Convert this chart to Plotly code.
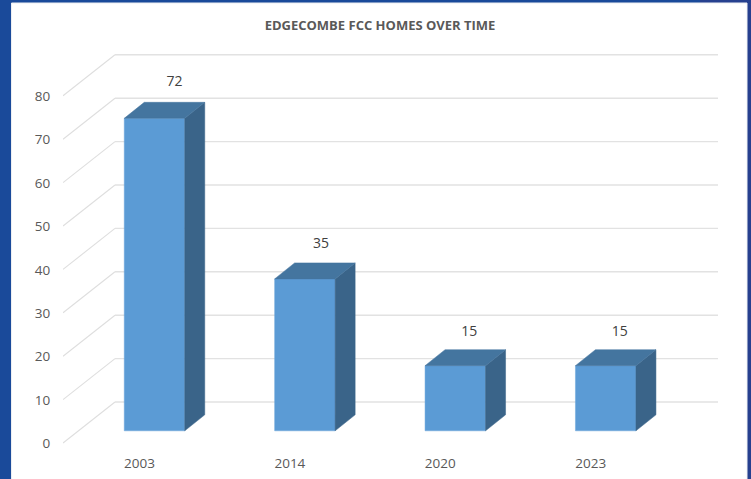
import plotly.graph_objects as go

categories = ["2003", "2014", "2020", "2023"]
values = [72, 35, 15, 15]
y_ticks = [0, 10, 20, 30, 40, 50, 60, 70, 80]
title_text = "EDGECOMBE FCC HOMES OVER TIME"

W, H = 751, 479
L, R, T, B = 63, 718, 40, 446
PX_X = 150.4          # pixels per category
PX_Y = 4.34           # pixels per value unit
X0, Y0 = 154.5, 430.8 # pixel position of first bar centre / bar base

x_range = [(L - X0) / PX_X, (R - X0) / PX_X]
y_range = [(Y0 - B) / PX_Y, (Y0 - T) / PX_Y]
def dx(px): return px / PX_X
def dy(px): return px / PX_Y

idx = list(range(len(categories)))
bar_w = dx(60.5)
depth_x, depth_y = dx(20), dy(16)

FRONT, TOP, SIDE = "#5B9BD5", "#44759F", "#3A6489"
BLUE = "#1A4A9A"
GRID = "#DEDEDE"

def px_x(p): return (p - L) / (R - L)
def px_y(p): return (B - p) / (B - T)

fig = go.Figure()

# frame bands, white panel, gridlines (slanted left wall + back wall), under the bars
shapes = [
    dict(type="rect", xref="paper", yref="paper", layer="below",
         x0=px_x(700), x1=px_x(760), y0=px_y(490), y1=px_y(-10),
         fillcolor="#26408F", line=dict(width=0)),
    dict(type="rect", xref="paper", yref="paper", layer="below",
         x0=px_x(11.5), x1=px_x(747), y0=px_y(490), y1=px_y(3),
         fillcolor="white", line=dict(color="#ECEEF2", width=1)),
]
xb = x_range[0] + dx(115 - L)
for t in y_ticks:
    f = t + dy(Y0 - 443)
    b = t + dy(Y0 - 402)
    shapes.append(dict(type="line", layer="below", xref="x", yref="y",
                       x0=x_range[0], x1=xb, y0=f, y1=b,
                       line=dict(color=GRID, width=1.1)))
    shapes.append(dict(type="line", layer="below", xref="x", yref="y",
                       x0=xb, x1=x_range[1], y0=b, y1=b,
                       line=dict(color="#E2E2E2", width=1.4)))

# front faces
fig.add_trace(go.Bar(x=idx, y=values, width=bar_w,
                     marker=dict(color=FRONT, line=dict(color="#6AA5DA", width=0.5))))

# 3-D side and top faces
hw = bar_w / 2
for i, v in zip(idx, values):
    fig.add_trace(go.Scatter(
        x=[i + hw, i + hw + depth_x, i + hw + depth_x, i + hw, i + hw],
        y=[0, depth_y, v + depth_y, v, 0], mode="lines", fill="toself",
        fillcolor=SIDE, line=dict(color=SIDE, width=0.5), hoverinfo="skip"))
    fig.add_trace(go.Scatter(
        x=[i - hw, i - hw + depth_x, i + hw + depth_x, i + hw, i - hw],
        y=[v, v + depth_y, v + depth_y, v, v], mode="lines", fill="toself",
        fillcolor=TOP, line=dict(color=TOP, width=0.5), hoverinfo="skip"))

# data labels: the offset grows slightly with height, as in the 3-D projection
fig.add_trace(go.Scatter(x=[i + dx(14 + (v - 15) * 0.105) for i, v in zip(idx, values)],
                         y=[v + dy(33.5 + (v - 15) * 0.044) for v in values],
                         mode="text", text=[str(v) for v in values],
                         textposition="middle center",
                         textfont=dict(family="Open Sans", size=14, color="#404040"),
                         hoverinfo="skip"))

fig.update_layout(
    width=W, height=H, showlegend=False, barmode="overlay",
    margin=dict(l=L, r=W - R, t=T, b=H - B, autoexpand=False),
    paper_bgcolor=BLUE, plot_bgcolor="rgba(0,0,0,0)",
    title=dict(text="<b>" + title_text + "</b>", x=380 / W, xanchor="center",
               y=1 - 25 / H, yanchor="middle",
               font=dict(family="Open Sans", size=13, color="#595959")),
    xaxis=dict(range=x_range, tickmode="array", automargin=False,
               tickvals=[i - dx(15) for i in idx], ticktext=categories,
               showgrid=False, zeroline=False, showline=False,
               ticks="outside", ticklen=5, tickcolor="rgba(0,0,0,0)",
               tickfont=dict(family="Open Sans", size=13.5, color="#595959")),
    yaxis=dict(range=y_range, tickmode="array", automargin=False,
               tickvals=[t + dy(Y0 - 443.5) for t in y_ticks],
               ticktext=[str(t) for t in y_ticks],
               showgrid=False, zeroline=False, showline=False,
               ticks="outside", ticklen=9, tickcolor="rgba(0,0,0,0)",
               tickfont=dict(family="Open Sans", size=13.5, color="#595959")),
    shapes=shapes,
)

fig.write_html("out.html", config={"displayModeBar": False},
               post_script="document.body.style.margin='0';")
